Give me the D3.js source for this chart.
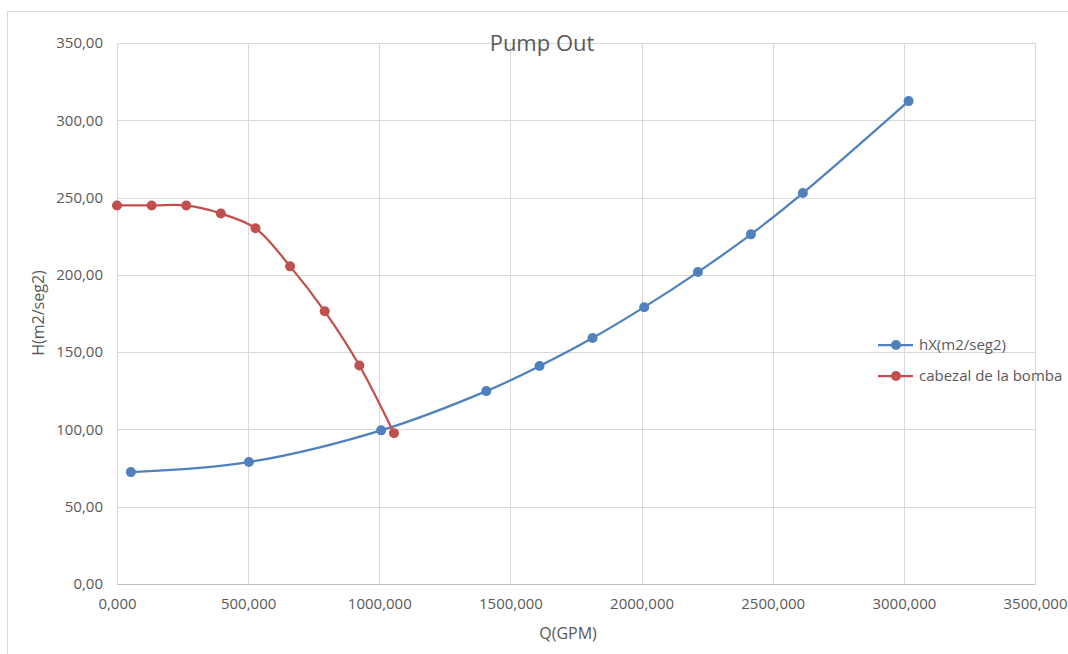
<!DOCTYPE html>
<html>
<head>
<meta charset="utf-8">
<script src="https://cdn.jsdelivr.net/npm/d3@7/dist/d3.min.js"></script>
<style>
  html, body { margin: 0; padding: 0; background: #fff; }
  svg { display: block; }
  text { font-family: "Open Sans", "Noto Sans", sans-serif; fill: #595959; }
</style>
</head>
<body>
<svg id="chart" width="1068" height="654"></svg>
<script>
// System curve: flow Q (GPM) and head H (m2/seg2)
const hxQ = [53, 503, 1007, 1408, 1611, 1813, 2010, 2215, 2417, 2615, 3018];
const hxH = [72.4, 78.9, 99.4, 124.8, 141.0, 159.1, 179.1, 201.8, 226.2, 252.9, 312.4];

// Pump curve
const pumpQ = [0, 132, 264, 396, 528, 660, 792, 924, 1056];
const pumpH = [244.9, 244.9, 244.9, 239.7, 230.1, 205.5, 176.4, 141.4, 97.6];

const xTicks = [0, 500, 1000, 1500, 2000, 2500, 3000, 3500];
const yTicks = [0, 50, 100, 150, 200, 250, 300, 350];

const seriesNames = ["hX(m2/seg2)", "cabezal de la bomba"];
const seriesColors = ["#4F81BD", "#C0504D"];

const svg = d3.select("#chart");

// Chart frame
svg.append("rect")
  .attr("x", 7.5).attr("y", 11.5)
  .attr("width", 1080).attr("height", 660)
  .attr("fill", "#fff").attr("stroke", "#d9d9d9").attr("stroke-width", 1);

const plot = { left: 117, right: 1035, top: 43, bottom: 584 };

const x = d3.scaleLinear().domain([0, 3500]).range([plot.left, plot.right]);
const y = d3.scaleLinear().domain([0, 350]).range([plot.bottom, plot.top]);

const fmtX = v => d3.format(".3f")(v).replace(".", ",");
const fmtY = v => d3.format(".2f")(v).replace(".", ",");

// Gridlines
const grid = svg.append("g");
grid.selectAll("line.gx").data(xTicks).join("line")
  .attr("x1", d => Math.round(x(d)) + 0.5).attr("x2", d => Math.round(x(d)) + 0.5)
  .attr("y1", plot.top).attr("y2", plot.bottom)
  .attr("stroke", "#d9d9d9").attr("stroke-width", 1);
grid.selectAll("line.gy").data(yTicks).join("line")
  .attr("x1", plot.left).attr("x2", plot.right)
  .attr("y1", d => Math.round(y(d)) + 0.5).attr("y2", d => Math.round(y(d)) + 0.5)
  .attr("stroke", "#d9d9d9").attr("stroke-width", 1);

// Axes (labels only, lines handled by gridlines)
const xAxis = d3.axisBottom(x).tickValues(xTicks).tickFormat(fmtX).tickSize(0).tickPadding(14);
const gx = svg.append("g").attr("transform", `translate(0,${plot.bottom})`).call(xAxis);
gx.select(".domain").attr("stroke", "#bfbfbf");
gx.selectAll("text").style("font-size", "15px").attr("fill", "#595959");

const yAxis = d3.axisLeft(y).tickValues(yTicks).tickFormat(fmtY).tickSize(0).tickPadding(14);
const gy = svg.append("g").attr("transform", `translate(${plot.left},0)`).call(yAxis);
gy.select(".domain").attr("stroke", "#d9d9d9");
gy.selectAll("text").style("font-size", "15px").attr("fill", "#595959");

// Title and axis titles
svg.append("text").attr("x", 542).attr("y", 51).attr("text-anchor", "middle")
  .style("font-size", "22px").text("Pump Out");
svg.append("text").attr("x", 568).attr("y", 639).attr("text-anchor", "middle")
  .style("font-size", "16px").text("Q(GPM)");
svg.append("text").attr("transform", "translate(44,313) rotate(-90)").attr("text-anchor", "middle")
  .style("font-size", "16px").text("H(m2/seg2)");

// Series
const series = [
  { name: seriesNames[0], color: seriesColors[0], pts: hxQ.map((q, i) => [q, hxH[i]]) },
  { name: seriesNames[1], color: seriesColors[1], pts: pumpQ.map((q, i) => [q, pumpH[i]]) }
];

const line = d3.line().x(d => x(d[0])).y(d => y(d[1])).curve(d3.curveCatmullRom.alpha(0.5));

series.forEach(s => {
  const g = svg.append("g");
  g.append("path").attr("d", line(s.pts)).attr("fill", "none")
    .attr("stroke", s.color).attr("stroke-width", 2.25).attr("stroke-linecap", "round");
  g.selectAll("circle").data(s.pts).join("circle")
    .attr("cx", d => x(d[0])).attr("cy", d => y(d[1])).attr("r", 5)
    .attr("fill", s.color);
});

// Legend
const legend = svg.append("g");
series.forEach((s, i) => {
  const ly = 345 + i * 31;
  legend.append("line").attr("x1", 878).attr("x2", 913).attr("y1", ly).attr("y2", ly)
    .attr("stroke", s.color).attr("stroke-width", 2.25);
  legend.append("circle").attr("cx", 896).attr("cy", ly).attr("r", 5).attr("fill", s.color);
  legend.append("text").attr("x", 919).attr("y", ly + 5).style("font-size", "15px").text(s.name);
});
</script>
</body>
</html>
